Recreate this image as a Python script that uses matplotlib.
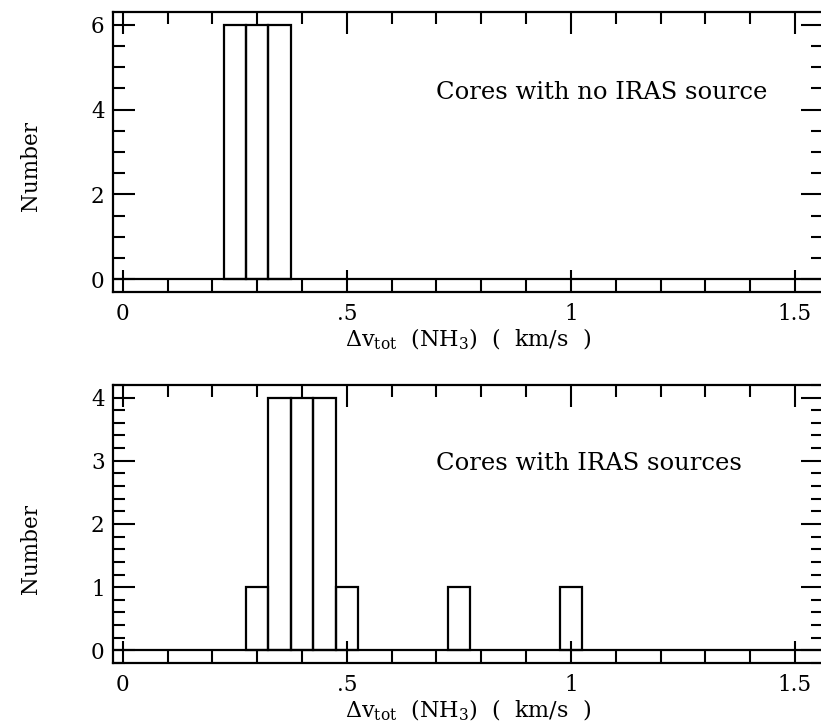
import matplotlib
matplotlib.use("Agg")
import matplotlib.pyplot as plt
from matplotlib.ticker import MultipleLocator, FixedLocator, FixedFormatter

# histogram data (bin left edges, km/s) and counts
bin_width = 0.05
left_no_iras = [0.225, 0.275, 0.325]
count_no_iras = [6, 6, 6]
left_iras = [0.275, 0.325, 0.375, 0.425, 0.475, 0.725, 0.975]
count_iras = [1, 4, 4, 4, 1, 1, 1]

xticks = [0, 0.5, 1, 1.5]
xticklabels = ["0", ".5", "1", "1.5"]

plt.rcParams['font.family'] = ['DejaVu Serif']
plt.rcParams['mathtext.fontset'] = 'dejavuserif'

fig = plt.figure(figsize=(8.21, 7.24), dpi=100)
ax1 = fig.add_axes([0.1376, 0.5967, 0.8648, 0.3867])
ax2 = fig.add_axes([0.1376, 0.0843, 0.8648, 0.3840])

panels = [
    (ax1, left_no_iras, count_no_iras, (-0.3, 6.3), 2, 0.5, "Cores with no IRAS source", 4.4, 0.45),
    (ax2, left_iras, count_iras, (-0.2, 4.2), 1, 0.2, "Cores with IRAS sources", 2.95, 0.41),
]

for ax, left, count, ylim, ymaj, ymin, label, ty, ly in panels:
    ax.bar(left, count, width=bin_width, align='edge', fill=False,
           edgecolor='black', linewidth=1.6)
    ax.axhline(0, color='black', linewidth=1.6)
    ax.set_xlim(-0.022, 1.5625)
    ax.set_ylim(*ylim)
    ax.xaxis.set_major_locator(FixedLocator(xticks))
    ax.xaxis.set_major_formatter(FixedFormatter(xticklabels))
    ax.xaxis.set_minor_locator(MultipleLocator(0.1))
    ax.yaxis.set_major_locator(MultipleLocator(ymaj))
    ax.yaxis.set_minor_locator(MultipleLocator(ymin))
    ax.tick_params(which='both', direction='in', top=True, right=True,
                   width=1.5, labelsize=15.5)
    ax.tick_params(which='major', length=16)
    ax.tick_params(which='minor', length=8.5)
    ax.tick_params(axis='x', pad=8)
    ax.tick_params(axis='y', pad=6)
    for s in ax.spines.values():
        s.set_linewidth(1.6)
    ax.text(0.70, ty, label, fontsize=17.5, va='center', ha='left')
    ax.set_xlabel(r'$\Delta$v$_{\rm tot}$  (NH$_3$)  (  km/s  )', fontsize=16, labelpad=1)
    ax.set_ylabel('Number', fontsize=15.5)
    ax.yaxis.set_label_coords(-0.10, ly)

fig.savefig("out.png", dpi=100)
